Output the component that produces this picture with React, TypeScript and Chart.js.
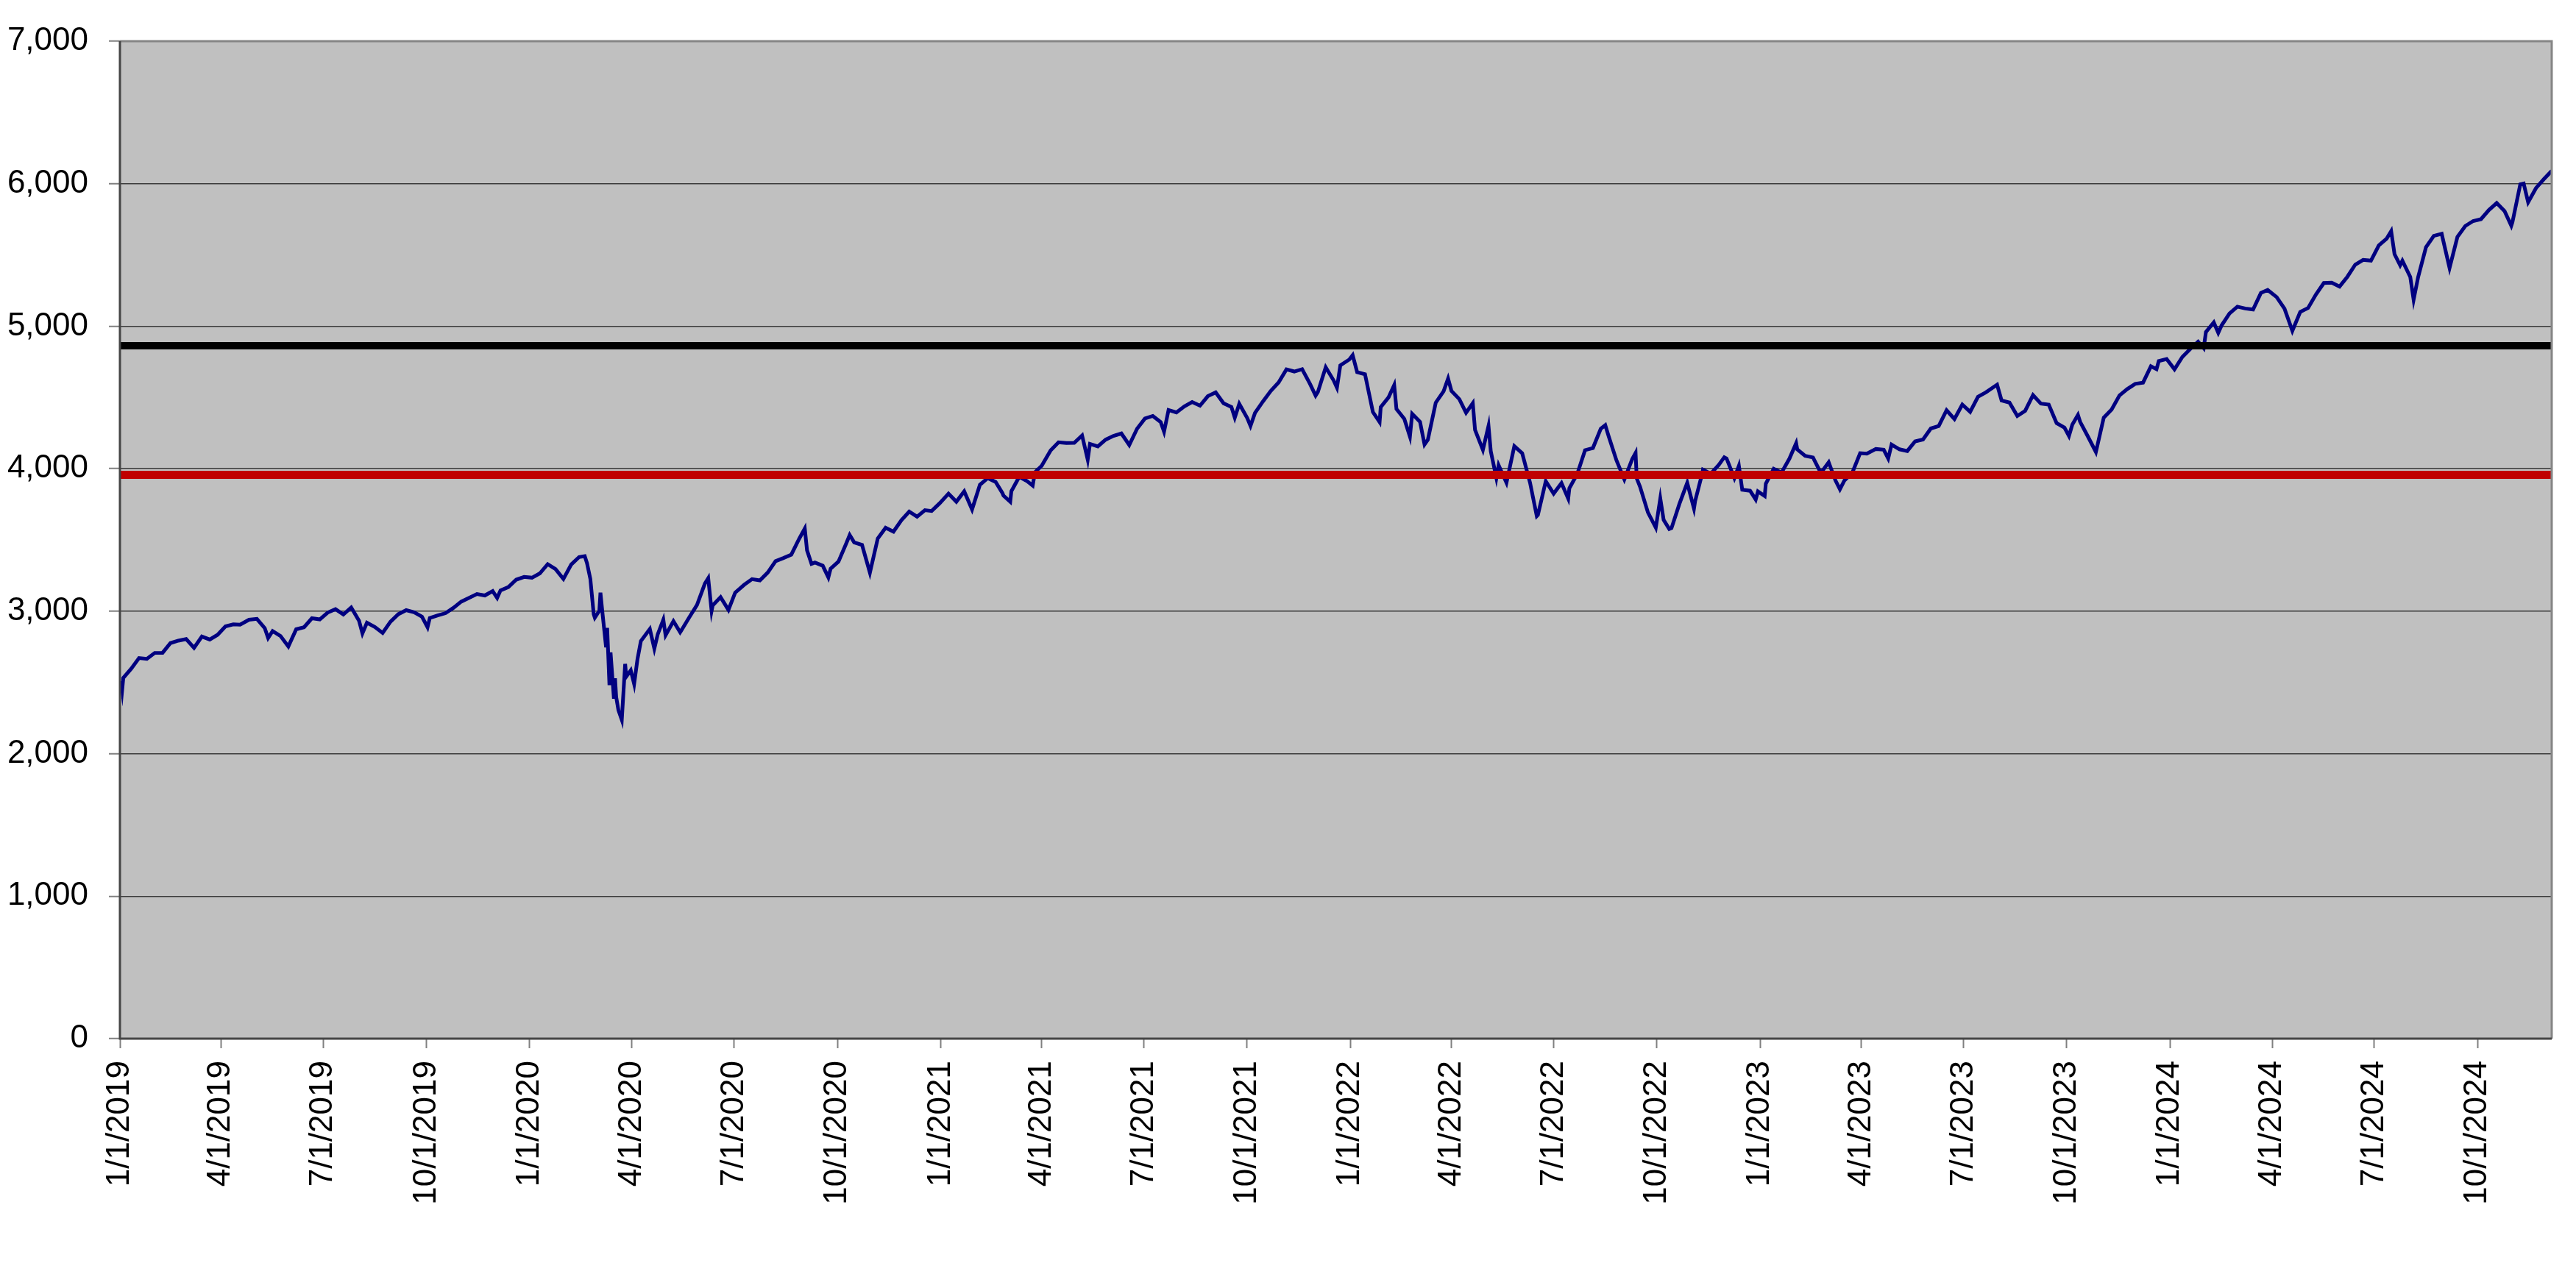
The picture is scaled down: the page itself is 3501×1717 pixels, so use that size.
import { useEffect, useRef } from "react"
import { Chart, registerables } from "chart.js"

Chart.register(...registerables)

// S&P 500 closes (mostly weekly, plus the sharp turns)
const sp2019: [string, number][] = [
  ["2019-01-02", 2510], ["2019-01-03", 2448], ["2019-01-04", 2532], ["2019-01-11", 2596],
  ["2019-01-18", 2671], ["2019-01-25", 2665], ["2019-02-01", 2707], ["2019-02-08", 2708],
  ["2019-02-15", 2776], ["2019-02-22", 2793], ["2019-03-01", 2804], ["2019-03-08", 2743],
  ["2019-03-15", 2822], ["2019-03-22", 2801], ["2019-03-29", 2834], ["2019-04-05", 2893],
  ["2019-04-12", 2907], ["2019-04-18", 2905], ["2019-04-26", 2940], ["2019-05-03", 2946],
  ["2019-05-10", 2881], ["2019-05-13", 2812], ["2019-05-17", 2860], ["2019-05-24", 2826],
  ["2019-05-31", 2752], ["2019-06-07", 2873], ["2019-06-14", 2887], ["2019-06-21", 2950],
  ["2019-06-28", 2942], ["2019-07-05", 2990], ["2019-07-12", 3014], ["2019-07-19", 2977],
  ["2019-07-26", 3026], ["2019-08-02", 2932], ["2019-08-05", 2844], ["2019-08-09", 2919],
  ["2019-08-16", 2889], ["2019-08-23", 2847], ["2019-08-30", 2926], ["2019-09-06", 2979],
  ["2019-09-13", 3007], ["2019-09-20", 2992], ["2019-09-27", 2962], ["2019-10-02", 2887],
  ["2019-10-04", 2952], ["2019-10-11", 2970], ["2019-10-18", 2986], ["2019-10-25", 3023],
  ["2019-11-01", 3067], ["2019-11-08", 3093], ["2019-11-15", 3120], ["2019-11-22", 3110],
  ["2019-11-29", 3141], ["2019-12-03", 3093], ["2019-12-06", 3146], ["2019-12-13", 3169],
  ["2019-12-20", 3221], ["2019-12-27", 3240],
]

const sp2020: [string, number][] = [
  ["2020-01-03", 3235], ["2020-01-10", 3265], ["2020-01-17", 3330], ["2020-01-24", 3295],
  ["2020-01-31", 3226], ["2020-02-07", 3328], ["2020-02-14", 3380], ["2020-02-19", 3386],
  ["2020-02-21", 3338], ["2020-02-24", 3226], ["2020-02-27", 2979], ["2020-02-28", 2954],
  ["2020-03-03", 3003], ["2020-03-04", 3130], ["2020-03-06", 2972], ["2020-03-09", 2747],
  ["2020-03-10", 2882], ["2020-03-12", 2481], ["2020-03-13", 2711], ["2020-03-16", 2386],
  ["2020-03-17", 2529], ["2020-03-18", 2398], ["2020-03-20", 2305], ["2020-03-23", 2237],
  ["2020-03-26", 2630], ["2020-03-27", 2541], ["2020-03-31", 2585], ["2020-04-03", 2489],
  ["2020-04-06", 2664], ["2020-04-09", 2790], ["2020-04-17", 2875], ["2020-04-21", 2737],
  ["2020-04-24", 2837], ["2020-04-29", 2940], ["2020-05-01", 2831], ["2020-05-08", 2930],
  ["2020-05-14", 2852], ["2020-05-15", 2864], ["2020-05-22", 2955], ["2020-05-29", 3044],
  ["2020-06-05", 3194], ["2020-06-08", 3232], ["2020-06-11", 3002], ["2020-06-12", 3041],
  ["2020-06-19", 3098], ["2020-06-26", 3009], ["2020-07-02", 3130], ["2020-07-10", 3185],
  ["2020-07-17", 3225], ["2020-07-24", 3216], ["2020-07-31", 3271], ["2020-08-07", 3351],
  ["2020-08-14", 3373], ["2020-08-21", 3397], ["2020-08-28", 3508], ["2020-09-02", 3580],
  ["2020-09-04", 3427], ["2020-09-08", 3332], ["2020-09-11", 3341], ["2020-09-18", 3319],
  ["2020-09-23", 3237], ["2020-09-25", 3298], ["2020-10-02", 3348], ["2020-10-09", 3477],
  ["2020-10-12", 3535], ["2020-10-16", 3483], ["2020-10-23", 3465], ["2020-10-30", 3270],
  ["2020-11-06", 3510], ["2020-11-13", 3585], ["2020-11-20", 3558], ["2020-11-27", 3638],
  ["2020-12-04", 3699], ["2020-12-11", 3663], ["2020-12-18", 3709], ["2020-12-24", 3703],
  ["2020-12-31", 3756],
]

const sp2021: [string, number][] = [
  ["2021-01-08", 3825], ["2021-01-15", 3768], ["2021-01-22", 3841], ["2021-01-29", 3714],
  ["2021-02-05", 3887], ["2021-02-12", 3934], ["2021-02-19", 3907], ["2021-02-25", 3829],
  ["2021-02-26", 3811], ["2021-03-04", 3768], ["2021-03-05", 3842], ["2021-03-12", 3943],
  ["2021-03-19", 3913], ["2021-03-24", 3881], ["2021-03-26", 3975], ["2021-04-01", 4020],
  ["2021-04-09", 4129], ["2021-04-16", 4185], ["2021-04-23", 4180], ["2021-04-30", 4181],
  ["2021-05-07", 4233], ["2021-05-12", 4063], ["2021-05-14", 4174], ["2021-05-21", 4156],
  ["2021-05-28", 4204], ["2021-06-04", 4230], ["2021-06-11", 4247], ["2021-06-18", 4166],
  ["2021-06-25", 4281], ["2021-07-02", 4352], ["2021-07-09", 4370], ["2021-07-16", 4327],
  ["2021-07-19", 4259], ["2021-07-23", 4412], ["2021-07-30", 4395], ["2021-08-06", 4437],
  ["2021-08-13", 4468], ["2021-08-20", 4442], ["2021-08-27", 4509], ["2021-09-03", 4535],
  ["2021-09-10", 4459], ["2021-09-17", 4433], ["2021-09-20", 4358], ["2021-09-24", 4455],
  ["2021-10-01", 4357], ["2021-10-04", 4300], ["2021-10-08", 4391], ["2021-10-15", 4471],
  ["2021-10-22", 4545], ["2021-10-29", 4605], ["2021-11-05", 4697], ["2021-11-12", 4682],
  ["2021-11-19", 4698], ["2021-11-26", 4595], ["2021-12-01", 4513], ["2021-12-03", 4538],
  ["2021-12-10", 4712], ["2021-12-17", 4620], ["2021-12-20", 4568], ["2021-12-23", 4725],
  ["2021-12-31", 4766],
]

const sp2022: [string, number][] = [
  ["2022-01-03", 4797], ["2022-01-07", 4677], ["2022-01-14", 4663], ["2022-01-21", 4398],
  ["2022-01-27", 4327], ["2022-01-28", 4432], ["2022-02-04", 4501], ["2022-02-09", 4587],
  ["2022-02-11", 4419], ["2022-02-18", 4349], ["2022-02-23", 4225], ["2022-02-25", 4385],
  ["2022-03-04", 4329], ["2022-03-08", 4170], ["2022-03-11", 4204], ["2022-03-18", 4463],
  ["2022-03-25", 4543], ["2022-03-29", 4632], ["2022-04-01", 4546], ["2022-04-08", 4488],
  ["2022-04-14", 4392], ["2022-04-20", 4460], ["2022-04-22", 4272], ["2022-04-29", 4132],
  ["2022-05-04", 4300], ["2022-05-06", 4123], ["2022-05-11", 3935], ["2022-05-13", 4024],
  ["2022-05-20", 3901], ["2022-05-27", 4158], ["2022-06-03", 4109], ["2022-06-10", 3901],
  ["2022-06-16", 3667], ["2022-06-17", 3675], ["2022-06-24", 3912], ["2022-07-01", 3825],
  ["2022-07-08", 3899], ["2022-07-14", 3790], ["2022-07-15", 3863], ["2022-07-22", 3962],
  ["2022-07-29", 4130], ["2022-08-05", 4145], ["2022-08-12", 4280], ["2022-08-16", 4305],
  ["2022-08-19", 4228], ["2022-08-26", 4058], ["2022-09-02", 3924], ["2022-09-09", 4067],
  ["2022-09-12", 4110], ["2022-09-13", 3932], ["2022-09-16", 3873], ["2022-09-23", 3693],
  ["2022-09-30", 3586], ["2022-10-04", 3791], ["2022-10-07", 3640], ["2022-10-12", 3577],
  ["2022-10-14", 3583], ["2022-10-21", 3752], ["2022-10-28", 3901], ["2022-11-03", 3720],
  ["2022-11-04", 3771], ["2022-11-10", 3956], ["2022-11-11", 3993], ["2022-11-18", 3965],
  ["2022-11-25", 4026], ["2022-11-30", 4080], ["2022-12-02", 4072], ["2022-12-09", 3934],
  ["2022-12-13", 4020], ["2022-12-16", 3852], ["2022-12-23", 3845], ["2022-12-28", 3783],
  ["2022-12-30", 3840],
]

const sp2023: [string, number][] = [
  ["2023-01-05", 3808], ["2023-01-06", 3895], ["2023-01-13", 3999], ["2023-01-20", 3972],
  ["2023-01-27", 4070], ["2023-02-02", 4179], ["2023-02-03", 4136], ["2023-02-10", 4090],
  ["2023-02-17", 4079], ["2023-02-24", 3970], ["2023-03-03", 4045], ["2023-03-09", 3918],
  ["2023-03-13", 3855], ["2023-03-17", 3917], ["2023-03-24", 3971], ["2023-03-31", 4109],
  ["2023-04-06", 4105], ["2023-04-14", 4138], ["2023-04-21", 4133], ["2023-04-25", 4071],
  ["2023-04-28", 4169], ["2023-05-05", 4136], ["2023-05-12", 4124], ["2023-05-19", 4192],
  ["2023-05-26", 4205], ["2023-06-02", 4282], ["2023-06-09", 4299], ["2023-06-16", 4410],
  ["2023-06-23", 4348], ["2023-06-30", 4450], ["2023-07-07", 4399], ["2023-07-14", 4505],
  ["2023-07-21", 4536], ["2023-07-31", 4589], ["2023-08-04", 4478], ["2023-08-11", 4464],
  ["2023-08-18", 4370], ["2023-08-25", 4406], ["2023-09-01", 4516], ["2023-09-08", 4457],
  ["2023-09-15", 4450], ["2023-09-22", 4320], ["2023-09-29", 4288], ["2023-10-03", 4229],
  ["2023-10-06", 4309], ["2023-10-11", 4377], ["2023-10-13", 4328], ["2023-10-20", 4224],
  ["2023-10-27", 4117], ["2023-11-03", 4358], ["2023-11-10", 4415], ["2023-11-17", 4514],
  ["2023-11-24", 4559], ["2023-12-01", 4595], ["2023-12-08", 4604], ["2023-12-15", 4719],
  ["2023-12-20", 4698], ["2023-12-22", 4755], ["2023-12-29", 4770],
]

const sp2024: [string, number][] = [
  ["2024-01-05", 4697], ["2024-01-12", 4784], ["2024-01-19", 4840], ["2024-01-26", 4891],
  ["2024-01-31", 4846], ["2024-02-02", 4959], ["2024-02-09", 5027], ["2024-02-13", 4953],
  ["2024-02-16", 5006], ["2024-02-23", 5089], ["2024-03-01", 5137], ["2024-03-08", 5124],
  ["2024-03-15", 5117], ["2024-03-22", 5234], ["2024-03-28", 5254], ["2024-04-05", 5204],
  ["2024-04-12", 5123], ["2024-04-19", 4967], ["2024-04-26", 5100], ["2024-05-03", 5128],
  ["2024-05-10", 5223], ["2024-05-17", 5303], ["2024-05-24", 5305], ["2024-05-31", 5278],
  ["2024-06-07", 5347], ["2024-06-14", 5432], ["2024-06-21", 5465], ["2024-06-28", 5460],
  ["2024-07-05", 5567], ["2024-07-12", 5615], ["2024-07-16", 5667], ["2024-07-19", 5505],
  ["2024-07-24", 5427], ["2024-07-26", 5459], ["2024-08-02", 5346], ["2024-08-05", 5186],
  ["2024-08-09", 5344], ["2024-08-16", 5554], ["2024-08-23", 5634], ["2024-08-30", 5648],
  ["2024-09-06", 5408], ["2024-09-13", 5626], ["2024-09-20", 5703], ["2024-09-27", 5738],
  ["2024-10-04", 5751], ["2024-10-11", 5815], ["2024-10-18", 5864], ["2024-10-25", 5808],
  ["2024-10-31", 5705], ["2024-11-01", 5729], ["2024-11-08", 5996], ["2024-11-11", 6001],
  ["2024-11-15", 5870], ["2024-11-22", 5969], ["2024-11-29", 6032], ["2024-12-06", 6090],
]

const tickLabels = [
  "1/1/2019", "4/1/2019", "7/1/2019", "10/1/2019",
  "1/1/2020", "4/1/2020", "7/1/2020", "10/1/2020",
  "1/1/2021", "4/1/2021", "7/1/2021", "10/1/2021",
  "1/1/2022", "4/1/2022", "7/1/2022", "10/1/2022",
  "1/1/2023", "4/1/2023", "7/1/2023", "10/1/2023",
  "1/1/2024", "4/1/2024", "7/1/2024", "10/1/2024",
]

const upperLevel = 4863
const lowerLevel = 3957
const axisStart = "2019-01-01"
const axisEnd = "2024-12-06"

const DAY = 86400000
const FONT = "Arial, 'Liberation Sans', Helvetica, sans-serif"

function isoToDay(s: string) {
  const [y, m, d] = s.split("-").map(Number)
  const [y0, m0, d0] = axisStart.split("-").map(Number)
  return (Date.UTC(y, m - 1, d) - Date.UTC(y0, m0 - 1, d0)) / DAY
}

function mdyToDay(s: string) {
  const [m, d, y] = s.split("/").map(Number)
  return isoToDay(`${y}-${String(m).padStart(2, "0")}-${String(d).padStart(2, "0")}`)
}

// grey plot area + the excel style frame
const plotFrame = {
  id: "plotFrame",
  beforeDraw(chart: any) {
    const { ctx, chartArea: a } = chart
    ctx.save()
    ctx.fillStyle = "#c0c0c0"
    ctx.fillRect(a.left, a.top, a.right - a.left, a.bottom - a.top)
    ctx.restore()
  },
  afterDraw(chart: any) {
    const { ctx, chartArea: a } = chart
    ctx.save()
    ctx.lineWidth = 3
    ctx.strokeStyle = "#858585"
    ctx.beginPath()
    ctx.moveTo(a.left, a.top)
    ctx.lineTo(a.right, a.top)
    ctx.lineTo(a.right, a.bottom)
    ctx.stroke()
    ctx.strokeStyle = "#454545"
    ctx.beginPath()
    ctx.moveTo(a.left, a.top)
    ctx.lineTo(a.left, a.bottom)
    ctx.lineTo(a.right, a.bottom)
    ctx.stroke()
    ctx.restore()
  },
}

export default function App() {
  const canvasRef = useRef<HTMLCanvasElement>(null)

  useEffect(() => {
    if (!canvasRef.current) return
    const series = [...sp2019, ...sp2020, ...sp2021, ...sp2022, ...sp2023, ...sp2024].map(
      ([d, v]) => ({ x: isoToDay(d), y: v }),
    )
    const xMax = isoToDay(axisEnd)
    const levelLine = (v: number) => [
      { x: 0, y: v },
      { x: xMax, y: v },
    ]

    const chart = new Chart(canvasRef.current, {
      type: "line",
      data: {
        datasets: [
          {
            label: "upper",
            data: levelLine(upperLevel),
            borderColor: "#000000",
            borderWidth: 10,
            pointRadius: 0,
          },
          {
            label: "lower",
            data: levelLine(lowerLevel),
            borderColor: "#c00000",
            borderWidth: 11,
            pointRadius: 0,
          },
          {
            label: "S&P 500",
            data: series,
            borderColor: "#000080",
            borderWidth: 5,
            pointRadius: 0,
            tension: 0,
          },
        ],
      },
      options: {
        animation: false,
        responsive: true,
        maintainAspectRatio: false,
        devicePixelRatio: 1,
        layout: { padding: { top: 56, right: 33, left: 0, bottom: 0 } },
        plugins: {
          legend: { display: false },
          tooltip: { enabled: false },
        },
        scales: {
          x: {
            type: "linear",
            min: 0,
            max: xMax,
            border: { display: false },
            grid: {
              drawOnChartArea: false,
              drawTicks: true,
              tickLength: 13,
              tickColor: "#808080",
              tickWidth: 2,
            },
            afterBuildTicks: (scale: any) => {
              scale.ticks = tickLabels.map((l) => ({ value: mdyToDay(l) }))
            },
            afterFit: (scale: any) => {
              scale.height = 305
            },
            ticks: {
              autoSkip: false,
              minRotation: 90,
              maxRotation: 90,
              padding: 17,
              color: "#000",
              font: { family: FONT, size: 44 },
              callback: (_v: any, i: number) => tickLabels[i],
            },
          },
          y: {
            min: 0,
            max: 7000,
            border: { display: false },
            grid: {
              color: "#3a3a3a",
              lineWidth: 1.5,
              tickLength: 15,
              tickColor: "#808080",
              tickWidth: 2,
            },
            afterFit: (scale: any) => {
              scale.width = 163
            },
            ticks: {
              stepSize: 1000,
              padding: 28,
              color: "#000",
              font: { family: FONT, size: 44 },
              callback: (v: any) => Number(v).toLocaleString("en-US"),
            },
          },
        },
      },
      plugins: [plotFrame],
    })

    return () => {
      chart.destroy()
    }
  }, [])

  return (
    <div style={{ position: "absolute", left: 0, top: 0, width: 3501, height: 1717, background: "#fff" }}>
      <canvas ref={canvasRef}></canvas>
    </div>
  )
}
